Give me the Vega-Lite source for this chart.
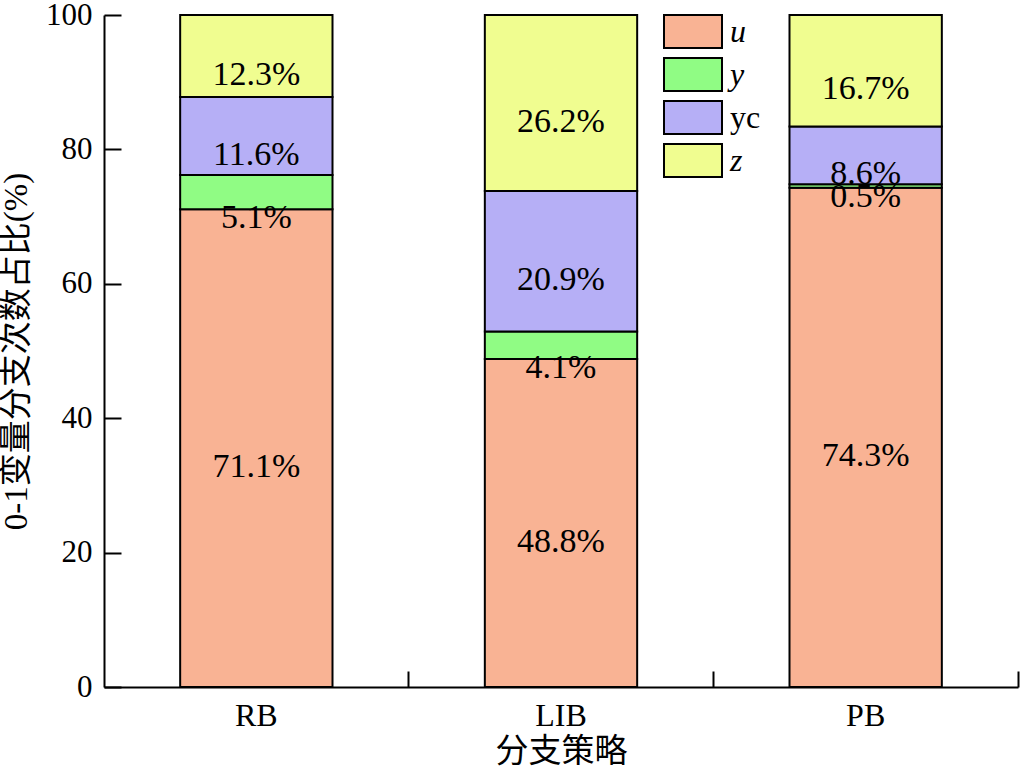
{
  "$schema": "https://vega.github.io/schema/vega-lite/v6.json",
  "width": 914,
  "height": 672,
  "autosize": {"type": "none"},
  "padding": {"left": 104, "top": 15, "right": 3, "bottom": 79},
  "background": "white",
  "config": {"view": {"stroke": null}, "font": "Liberation Serif", "axis": {"ticks": true, "tickColor": "black", "tickWidth": 2, "tickOpacity": 1}},
  "data": {
    "values": [
      {"strategy": "RB", "series": "u", "v": 71.1},
      {"strategy": "RB", "series": "y", "v": 5.1},
      {"strategy": "RB", "series": "yc", "v": 11.6},
      {"strategy": "RB", "series": "z", "v": 12.3},
      {"strategy": "LIB", "series": "u", "v": 48.8},
      {"strategy": "LIB", "series": "y", "v": 4.1},
      {"strategy": "LIB", "series": "yc", "v": 20.9},
      {"strategy": "LIB", "series": "z", "v": 26.2},
      {"strategy": "PB", "series": "u", "v": 74.3},
      {"strategy": "PB", "series": "y", "v": 0.5},
      {"strategy": "PB", "series": "yc", "v": 8.6},
      {"strategy": "PB", "series": "z", "v": 16.7}
    ]
  },
  "transform": [
    {"stack": "v", "groupby": ["strategy"], "sort": [{"field": "series", "order": "ascending"}], "as": ["v0", "v1"]},
    {"calculate": "(datum.v0 + datum.v1) / 2", "as": "mid"},
    {"calculate": "format(datum.v, '.1f') + '%'", "as": "label"}
  ],
  "layer": [
    {
      "mark": {"type": "bar", "stroke": "black", "strokeWidth": 2},
      "encoding": {
        "x": {
          "field": "strategy",
          "type": "nominal",
          "sort": ["RB", "LIB", "PB"],
          "scale": {"paddingInner": 0.5, "paddingOuter": 0.25},
          "title": "分支策略",
          "axis": {
            "tickSize": -16,
            "bandPosition": 1.5,
            "domainColor": "black",
            "domainWidth": 2,
            "labelAngle": 0,
            "labelFont": "Liberation Serif",
            "labelFontSize": 32,
            "labelColor": "black",
            "labelPadding": 29,
            "titleFont": "Liberation Serif, Noto Sans CJK SC",
            "titleFontSize": 33,
            "titleFontWeight": "normal",
            "titleColor": "black",
            "titlePadding": 4
          }
        },
        "y": {
          "field": "v0",
          "type": "quantitative",
          "title": "0-1变量分支次数占比(%)",
          "scale": {"domain": [0, 100], "clamp": true, "nice": false},
          "axis": {
            "values": [0, 20, 40, 60, 80, 100],
            "grid": false,
            "tickSize": -17,
            "domainColor": "black",
            "domainWidth": 2,
            "labelFont": "Liberation Serif",
            "labelFontSize": 31,
            "labelColor": "black",
            "labelPadding": 29,
            "labelFlush": false,
            "titleFont": "Liberation Serif, Noto Sans CJK SC",
            "titleFontSize": 33,
            "titleFontWeight": "normal",
            "titleColor": "black",
            "titlePadding": 12
          }
        },
        "y2": {"field": "v1"},
        "fill": {
          "field": "series",
          "type": "nominal",
          "scale": {"domain": ["u", "y", "yc", "z"], "range": ["#F9B394", "#90FC84", "#B6AFF6", "#F0FD90"]},
          "legend": {
            "orient": "none",
            "legendX": 559,
            "legendY": -5,
            "title": null,
            "symbolType": "M-1,-0.57H1V0.57H-1Z",
            "symbolSize": 3364,
            "symbolStrokeColor": "black",
            "symbolStrokeWidth": 2,
            "symbolOpacity": 1,
            "clipHeight": 43,
            "rowPadding": 0,
            "labelFont": "Liberation Serif",
            "labelFontSize": 32,
            "labelColor": "black",
            "labelOffset": 7,
            "labelFontStyle": "italic",
            "encode": {"labels": {"update": {"fontStyle": {"signal": "datum.label === 'yc' ? 'normal' : 'italic'"}}}}
          }
        }
      }
    },
    {
      "transform": [{"filter": "datum.series != 'y'"}],
      "mark": {"type": "text", "fontSize": 34, "dy": 19, "font": "Liberation Serif", "color": "black"},
      "encoding": {
        "x": {"field": "strategy", "type": "nominal", "sort": ["RB", "LIB", "PB"], "title": "分支策略"},
        "y": {"field": "mid", "type": "quantitative", "title": "0-1变量分支次数占比(%)"},
        "text": {"field": "label"}
      }
    },
    {
      "transform": [{"filter": "datum.series == 'y'"}],
      "mark": {"type": "text", "fontSize": 34, "dy": 9, "font": "Liberation Serif", "color": "black"},
      "encoding": {
        "x": {"field": "strategy", "type": "nominal", "sort": ["RB", "LIB", "PB"], "title": "分支策略"},
        "y": {"field": "v0", "type": "quantitative", "title": "0-1变量分支次数占比(%)"},
        "text": {"field": "label"}
      }
    }
  ]
}
